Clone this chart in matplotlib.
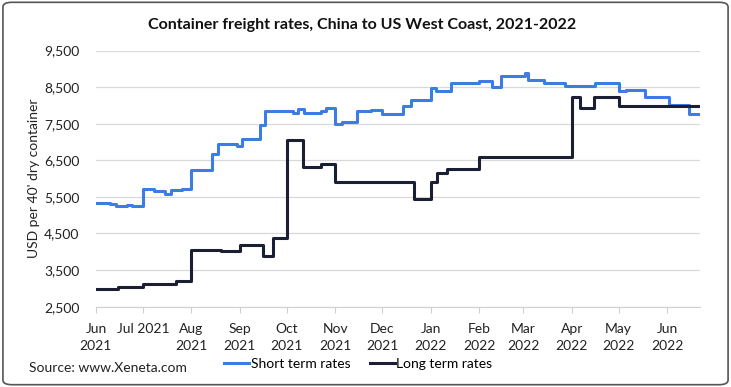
import matplotlib
matplotlib.use("Agg")
import matplotlib.pyplot as plt
from matplotlib.patches import FancyBboxPatch
import pandas as pd

# short term (spot) rates, USD per 40' container
short_dates = ["2021-06-01", "2021-06-10", "2021-06-14", "2021-06-21", "2021-06-24",
               "2021-07-01", "2021-07-08", "2021-07-15", "2021-07-19", "2021-07-26",
               "2021-08-01", "2021-08-14", "2021-08-18", "2021-08-30", "2021-09-02",
               "2021-09-14", "2021-09-17", "2021-10-05", "2021-10-08", "2021-10-12",
               "2021-10-23", "2021-10-26", "2021-11-01", "2021-11-05", "2021-11-15",
               "2021-11-24", "2021-12-01", "2021-12-14", "2021-12-19", "2022-01-01",
               "2022-01-04", "2022-01-14", "2022-02-01", "2022-02-09", "2022-02-15",
               "2022-03-02", "2022-03-04", "2022-03-14", "2022-03-28", "2022-04-16",
               "2022-05-01", "2022-05-06", "2022-05-18", "2022-06-02", "2022-06-15",
               "2022-06-21"]
short_vals = [5340, 5310, 5250, 5280, 5250,
              5710, 5670, 5590, 5680, 5710,
              6235, 6670, 6940, 6900, 7080,
              7460, 7855, 7780, 7900, 7800,
              7850, 7920, 7480, 7550, 7855,
              7880, 7765, 7980, 8150, 8470,
              8390, 8600, 8675, 8510, 8800,
              8890, 8700, 8620, 8530, 8620,
              8390, 8420, 8240, 8010, 7770,
              7770]

# long term (contract) rates
long_dates = ["2021-06-01", "2021-06-15", "2021-07-01", "2021-07-22", "2021-08-01",
              "2021-08-20", "2021-09-01", "2021-09-16", "2021-09-22", "2021-10-01",
              "2021-10-11", "2021-10-23", "2021-11-01", "2021-11-22", "2021-12-21",
              "2022-01-01", "2022-01-05", "2022-01-11", "2022-02-01", "2022-04-01",
              "2022-04-06", "2022-04-15", "2022-05-01", "2022-06-21"]
long_vals = [2975, 3046, 3112, 3202, 4050,
             4022, 4185, 3893, 4370, 7055,
             6325, 6400, 5900, 5920, 5443,
             5915, 6160, 6250, 6580, 8237,
             7937, 8237, 7983, 7983]

tick_dates = pd.date_range("2021-06-01", "2022-06-01", freq="MS")
tick_labels = ["Jun\n2021", "Jul 2021", "Aug\n2021", "Sep\n2021", "Oct\n2021",
               "Nov\n2021", "Dec\n2021", "Jan\n2022", "Feb\n2022", "Mar\n2022",
               "Apr\n2022", "May\n2022", "Jun\n2022"]
y_ticks = [2500, 3500, 4500, 5500, 6500, 7500, 8500, 9500]

plt.rcParams["font.family"] = ["Lato", "DejaVu Sans"]

fig = plt.figure(figsize=(7.31, 3.87), dpi=100)
ax = fig.add_axes([0.1313, 0.2075, 0.8263, 0.662])

blue = "#3c7de3"
navy = "#1b1f33"
ax.step(pd.to_datetime(short_dates), short_vals, where="post", color=blue, lw=2.2,
        label="Short term rates")
ax.step(pd.to_datetime(long_dates), long_vals, where="post", color=navy, lw=2.2,
        label="Long term rates")

ax.set_ylim(2500, 9500)
ax.set_xlim(pd.Timestamp("2021-06-01"), pd.Timestamp("2022-06-22"))
ax.set_yticks(y_ticks)
ax.set_yticklabels([f"{v:,}" for v in y_ticks])
ax.set_xticks(tick_dates)
ax.set_xticklabels(tick_labels, linespacing=1.5)
ax.grid(axis="y", color="#d9d9d9", lw=0.9)
ax.set_axisbelow(True)
for s in ["top", "right", "left"]:
    ax.spines[s].set_visible(False)
ax.spines["bottom"].set_color("#d0d0d0")
ax.tick_params(axis="y", length=0, pad=12, labelsize=10, colors="#222222")
ax.tick_params(axis="x", length=4, color="#d0d0d0", pad=8, labelsize=10, colors="#222222")
ax.set_ylabel("USD per 40' dry container", fontsize=10, color="#222222")
ax.yaxis.set_label_coords(-0.093, 0.5)

fig.text(0.495, 0.935, "Container freight rates, China to US West Coast, 2021-2022",
         ha="center", va="center", fontsize=11.5, fontweight="bold", color="#111111")
fig.text(0.04, 0.048, "Source: www.Xeneta.com", ha="left", va="center",
         fontsize=10, color="#222222")

leg = fig.legend(loc="center", bbox_to_anchor=(0.49, 0.06), ncol=2, frameon=False,
                 fontsize=10, handlelength=1.8, handletextpad=0.1, columnspacing=1.4)

# rounded outer frame
fig.patches.append(FancyBboxPatch((0.004, 0.006), 0.992, 0.988,
                                  boxstyle="round,pad=0,rounding_size=0.012",
                                  transform=fig.transFigure, fill=False,
                                  edgecolor="#555555", lw=1.2))

fig.savefig("out.png", dpi=100)
